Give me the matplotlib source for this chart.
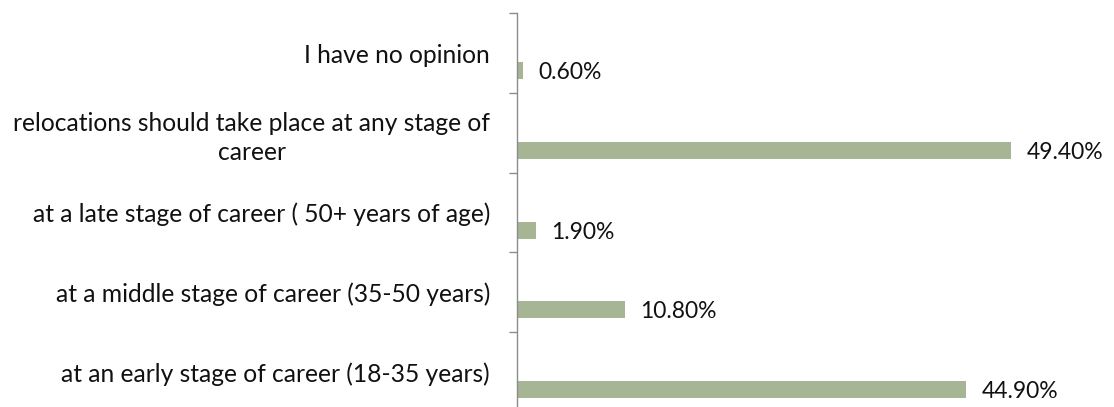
import matplotlib
matplotlib.use("Agg")
import matplotlib.pyplot as plt
import numpy as np

# bottom to top, as in the spreadsheet
categories = [
    "at an early stage of career (18-35 years)",
    "at a middle stage of career (35-50 years)",
    "at a late stage of career ( 50+ years of age)",
    "relocations should take place at any stage of\ncareer",
    "I have no opinion",
]
values = [44.9, 10.8, 1.9, 49.4, 0.6]
value_labels = ["44.90%", "10.80%", "1.90%", "49.40%", "0.60%"]

plt.rcParams.update({"font.family": "Lato", "font.size": 16.5})

bar_color = "#A6B593"
axis_color = "#8C8C8C"

fig = plt.figure(figsize=(11.14, 4.07), dpi=100)
ax = fig.add_axes([516.5 / 1114, -0.01155, 500.5 / 1114, 0.97887])

y = np.arange(len(categories))
ax.barh(y - 0.22, values, height=0.213, color=bar_color, zorder=2)

for yi, v, lab in zip(y, values, value_labels):
    ax.annotate(lab, (v, yi - 0.22), xytext=(11.5, 0), textcoords="offset points",
                va="center_baseline", ha="left", color="#111111", annotation_clip=False)

ax.set_xlim(0, 50)
ax.set_ylim(-0.5, len(categories) - 0.5)

ax.set_yticks(y)
ax.set_yticklabels(categories, multialignment="center", color="#111111",
                   linespacing=1.3, fontsize=17.7)
ax.tick_params(axis="y", which="major", length=0, pad=19)
ax.set_yticks(np.arange(len(categories) + 1) - 0.5, minor=True)
ax.tick_params(axis="y", which="minor", length=6, width=1.0, color=axis_color)
ax.set_xticks([])

for s in ["top", "right", "bottom"]:
    ax.spines[s].set_visible(False)
ax.spines["left"].set_color(axis_color)
ax.spines["left"].set_linewidth(1.0)

plt.savefig("out.png", dpi=100)
plt.close()
